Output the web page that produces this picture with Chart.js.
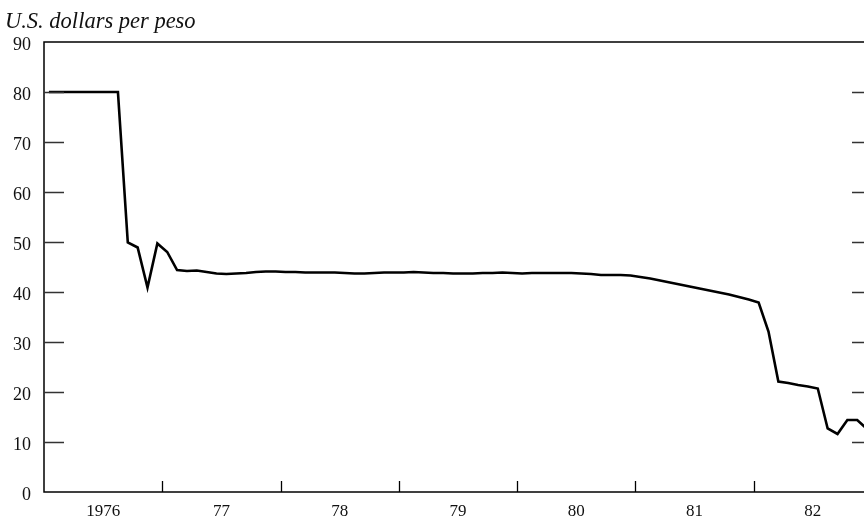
<!DOCTYPE html>
<html><head><meta charset="utf-8">
<script src="https://cdn.jsdelivr.net/npm/chart.js@4"></script>
<style>
html,body{margin:0;padding:0;overflow:hidden;background:#fff;width:864px;height:519px}
#wrap{width:900px;height:519px;position:relative}
</style></head>
<body><div id="wrap"><canvas id="c" width="900" height="519"></canvas></div>
<script>
const titleText = 'U.S. dollars per peso';
const yearLabels = ['1976', '77', '78', '79', '80', '81', '82'];
const yTickValues = [0, 10, 20, 30, 40, 50, 60, 70, 80, 90];
// Monthly values
const rate1976 = [80, 80, 80, 80, 80, 80, 80, 80, 49.9, 48.9, 40.9, 49.7];
const rate1977 = [48.0, 44.4, 44.2, 44.3, 44.0, 43.7, 43.6, 43.7, 43.8, 44.0, 44.1, 44.1];
const rate1978 = [44.0, 44.0, 43.9, 43.9, 43.9, 43.9, 43.8, 43.7, 43.7, 43.8, 43.9, 43.9];
const rate1979 = [43.9, 44.0, 43.9, 43.8, 43.8, 43.7, 43.7, 43.7, 43.8, 43.8, 43.9, 43.8];
const rate1980 = [43.7, 43.8, 43.8, 43.8, 43.8, 43.8, 43.7, 43.6, 43.4, 43.4, 43.4, 43.3];
const rate1981 = [43.0, 42.7, 42.3, 41.9, 41.5, 41.1, 40.7, 40.3, 39.9, 39.5, 39.0, 38.5];
const rate1982 = [37.9, 32.1, 22.1, 21.8, 21.4, 21.1, 20.7, 12.7, 11.6, 14.4, 14.4, 12.6];

const series = [].concat(rate1976, rate1977, rate1978, rate1979, rate1980, rate1981, rate1982);
const points = series.map((v, i) => ({ x: i + 0.5, y: v }));

const FONT = '"Liberation Serif", "DejaVu Serif", serif';

const framePlugin = {
  id: 'frame',
  afterDraw(chart) {
    const ctx = chart.ctx;
    const a = chart.chartArea;
    const xs = chart.scales.x, ys = chart.scales.y;
    ctx.save();
    ctx.strokeStyle = '#000';
    ctx.lineWidth = 1.5;
    ctx.strokeRect(a.left, a.top, a.right - a.left, a.bottom - a.top);
    ctx.lineWidth = 1.3;
    ctx.strokeStyle = '#333';
    yTickValues.forEach(v => {
      if (v === 0 || v === 90) return;
      const py = Math.round(ys.getPixelForValue(v)) + 0.5;
      ctx.beginPath();
      ctx.moveTo(a.left, py); ctx.lineTo(a.left + 20, py);
      ctx.moveTo(a.right - 20, py); ctx.lineTo(a.right, py);
      ctx.stroke();
    });
    ctx.strokeStyle = '#000';
    for (let k = 1; k < yearLabels.length; k++) {
      const px = Math.round(xs.getPixelForValue(k * 12)) + 0.5;
      ctx.beginPath();
      ctx.moveTo(px, a.bottom); ctx.lineTo(px, a.bottom - 11);
      ctx.stroke();
    }
    ctx.fillStyle = '#111';
    ctx.font = 'italic 22.5px ' + FONT;
    ctx.textBaseline = 'alphabetic';
    ctx.textAlign = 'left';
    ctx.fillText(titleText, 5, 28);
    ctx.restore();
  }
};

new Chart(document.getElementById('c'), {
  type: 'line',
  data: {
    datasets: [{
      data: points,
      borderColor: '#000',
      borderWidth: 2.6,
      pointRadius: 0,
      tension: 0,
      fill: false
    }]
  },
  options: {
    responsive: false,
    animation: false,
    devicePixelRatio: 1,
    layout: { padding: { top: 42, right: 28, left: 0, bottom: 0 } },
    plugins: { legend: { display: false }, tooltip: { enabled: false } },
    scales: {
      x: {
        type: 'linear', min: 0, max: yearLabels.length * 12,
        grid: { display: false, drawTicks: false },
        border: { display: false },
        afterBuildTicks: s => { s.ticks = yearLabels.map((_, i) => ({ value: i * 12 + 6 })); },
        afterFit: s => { s.height = 27; },
        ticks: {
          padding: 9, maxRotation: 0, autoSkip: false,
          color: '#111', font: { family: FONT, size: 17 },
          callback: v => yearLabels[Math.round((v - 6) / 12)]
        }
      },
      y: {
        min: 0, max: 90,
        grid: { display: false, drawTicks: false },
        border: { display: false },
        afterBuildTicks: s => { s.ticks = yTickValues.map(v => ({ value: v })); },
        afterFit: s => { s.width = 44; },
        ticks: {
          padding: 13, labelOffset: 3,
          color: '#111', font: { family: FONT, size: 18 }
        }
      }
    }
  },
  plugins: [framePlugin]
});
</script>
</body></html>
